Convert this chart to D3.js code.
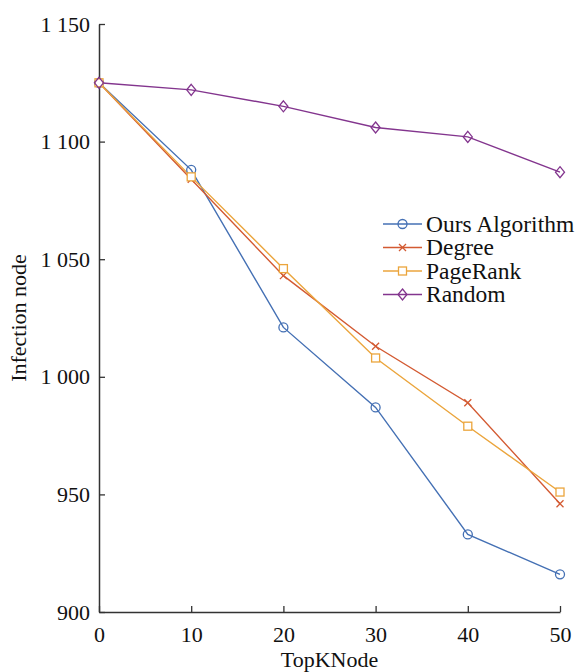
<!DOCTYPE html>
<html>
<head>
<meta charset="utf-8">
<script src="https://cdn.jsdelivr.net/npm/d3@7"></script>
<style>
  body { margin: 0; background: #fff; }
  svg text { font-family: "Liberation Serif", "Times New Roman", Times, serif !important; fill: #111; }
</style>
</head>
<body>
<div id="chart"></div>
<script>
// x positions (TopKNode)
const topK = [0, 10, 20, 30, 40, 50];
// infection node counts per method
const oursAlgorithm = [1125, 1088, 1021, 987, 933, 916];
const degree = [1125, 1084, 1043, 1013, 989, 946];
const pageRank = [1125, 1085, 1046, 1008, 979, 951];
const random = [1125, 1122, 1115, 1106, 1102, 1087];
const xTicks = [0, 10, 20, 30, 40, 50];
const yTicks = [900, 950, 1000, 1050, 1100, 1150];

const series = [
    { name: "Ours Algorithm", values: oursAlgorithm, color: "#4470b4", marker: "circle" },
    { name: "Degree", values: degree, color: "#d35a32", marker: "cross" },
    { name: "PageRank", values: pageRank, color: "#eba53c", marker: "square" },
    { name: "Random", values: random, color: "#83358e", marker: "diamond" }
];

let width = 576;
let height = 672;
let margin = { top: 24, right: 16, bottom: 60, left: 99 };
let serif = "'Liberation Serif', 'Times New Roman', Times, serif";

let svg = d3.select("#chart").append("svg")
    .attr("width", width)
    .attr("height", height)
    .attr("font-family", serif);

let x = d3.scaleLinear()
    .domain([0, 50])
    .range([margin.left, 560]);

let y = d3.scaleLinear()
    .domain([900, 1150])
    .range([height - margin.bottom, margin.top]);

// thousands with a space, like "1 150"
let fmt = d => {
    let s = String(d);
    return s.length > 3 ? s.slice(0, s.length - 3) + " " + s.slice(-3) : s;
};

// x axis, ticks pointing inward
let xAxisG = svg.append("g")
    .attr("transform", `translate(0, ${y(900)})`)
    .call(d3.axisTop(x).tickValues(xTicks).tickSize(6).tickSizeOuter(0).tickFormat(d3.format("d")))
    .attr("font-family", serif)
    .attr("font-size", 22);
xAxisG.select(".domain").attr("stroke", "#333").attr("stroke-width", 1.5);
xAxisG.selectAll(".tick line").attr("stroke", "#333").attr("stroke-width", 1.3);
xAxisG.selectAll(".tick text")
    .attr("y", 30)
    .attr("dy", 0);

// y axis, ticks pointing inward
let yAxisG = svg.append("g")
    .attr("transform", `translate(${x(0)}, 0)`)
    .call(d3.axisRight(y).tickValues(yTicks).tickSize(6).tickSizeOuter(0).tickFormat(fmt))
    .attr("font-family", serif)
    .attr("font-size", 22);
yAxisG.select(".domain").attr("stroke", "#333").attr("stroke-width", 1.5);
yAxisG.selectAll(".tick line").attr("stroke", "#333").attr("stroke-width", 1.3);
yAxisG.selectAll(".tick text")
    .attr("x", -9)
    .attr("text-anchor", "end");

// axis titles
svg.append("text")
    .attr("x", (x(0) + x(50)) / 2)
    .attr("y", 667)
    .attr("text-anchor", "middle")
    .attr("font-size", 22)
    .text("TopKNode");

svg.append("text")
    .attr("transform", `translate(26, ${y(1025)}) rotate(-90)`)
    .attr("text-anchor", "middle")
    .attr("font-size", 22)
    .text("Infection node");

// marker drawing
function drawMarker(g, type, color) {
    if (type === "circle") {
        g.append("circle").attr("r", 4.5).attr("fill", "none").attr("stroke", color).attr("stroke-width", 1.3);
    } else if (type === "cross") {
        g.append("path").attr("d", "M-3.5,-3.5L3.5,3.5M-3.5,3.5L3.5,-3.5")
            .attr("stroke", color).attr("stroke-width", 1.3);
    } else if (type === "square") {
        g.append("rect").attr("x", -4).attr("y", -4).attr("width", 8).attr("height", 8)
            .attr("fill", "#fff").attr("stroke", color).attr("stroke-width", 1.3);
    } else if (type === "diamond") {
        g.append("path").attr("d", "M0,-5.5L4.5,0L0,5.5L-4.5,0Z")
            .attr("fill", "none").attr("stroke", color).attr("stroke-width", 1.3);
    }
}

let line = d3.line()
    .x((d, i) => x(topK[i]))
    .y(d => y(d));

let plotG = svg.append("g");
series.forEach(s => {
    plotG.append("path")
        .datum(s.values)
        .attr("fill", "none")
        .attr("stroke", s.color)
        .attr("stroke-width", 1.4)
        .attr("d", line);
});
series.forEach(s => {
    s.values.forEach((v, i) => {
        let g = plotG.append("g").attr("transform", `translate(${x(topK[i])}, ${y(v)})`);
        drawMarker(g, s.marker, s.color);
    });
});

// legend
let legendG = svg.append("g").attr("transform", "translate(383, 224)");
series.forEach((s, i) => {
    let row = legendG.append("g").attr("transform", `translate(0, ${i * 23.5})`);
    row.append("line").attr("x1", 0).attr("x2", 39).attr("y1", 0).attr("y2", 0)
        .attr("stroke", s.color).attr("stroke-width", 1.4);
    let m = row.append("g").attr("transform", "translate(19.5, 0)");
    drawMarker(m, s.marker, s.color);
    row.append("text")
        .attr("x", 43)
        .attr("y", 0)
        .attr("dy", "0.33em")
        .attr("font-size", 23.5)
        .text(s.name);
});
</script>
</body>
</html>
